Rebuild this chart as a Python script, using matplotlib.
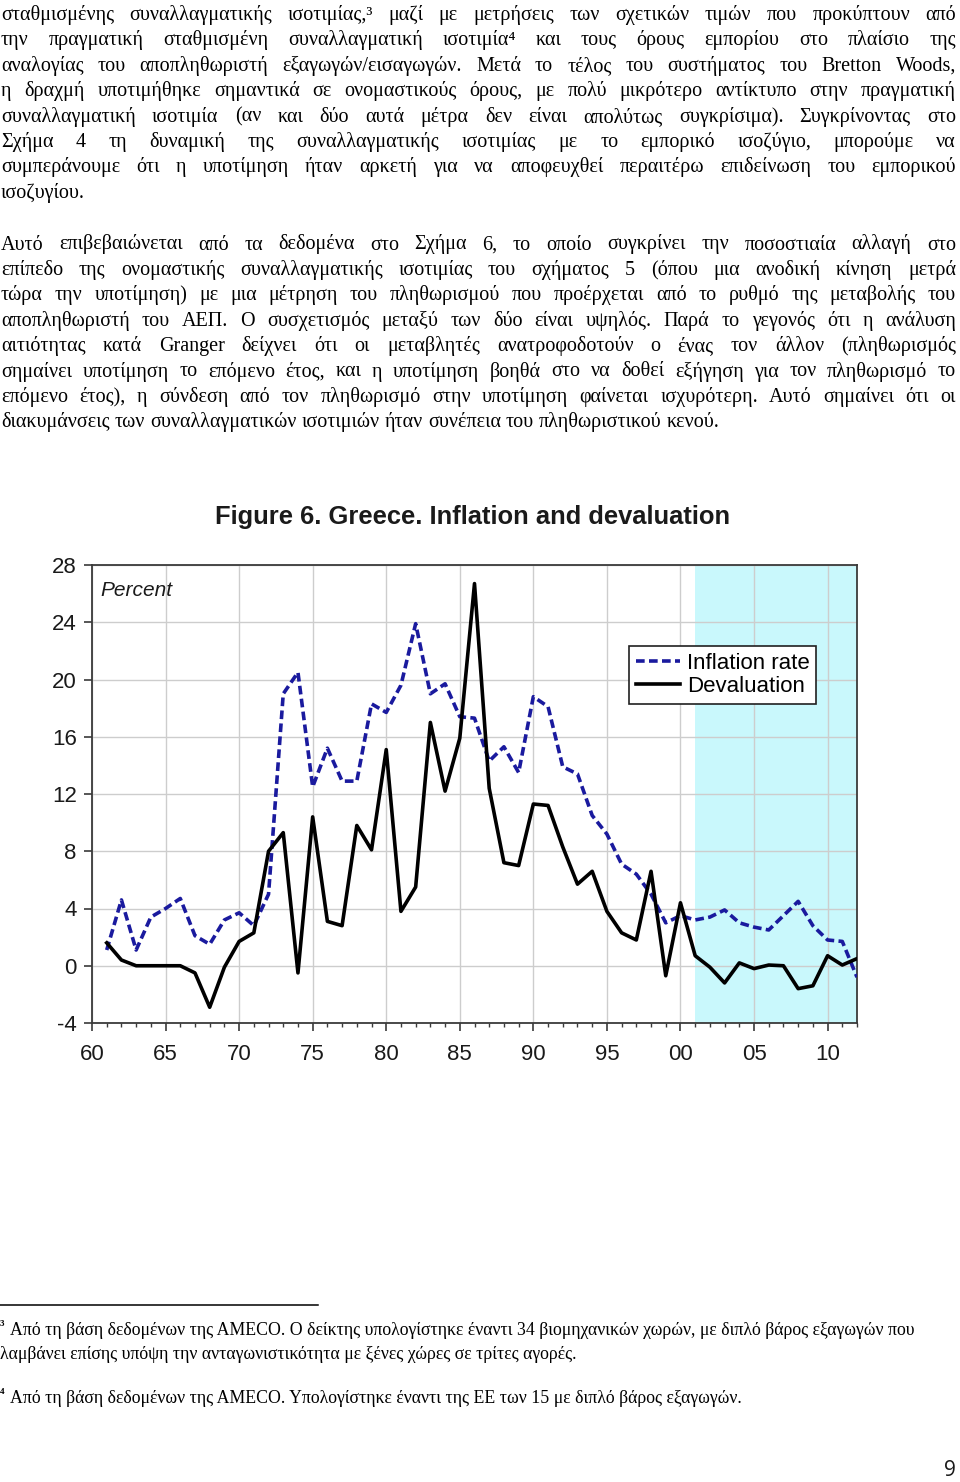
import numpy as np
import matplotlib
matplotlib.use("Agg")
import matplotlib.pyplot as plt
from matplotlib.ticker import MultipleLocator, FixedLocator

# ==========================================
# Data
# ==========================================
years = list(range(1961, 2013))

inflation = [1.1, 4.6, 1.1, 3.4, 4.0, 4.7, 2.1, 1.5, 3.2, 3.7,
             2.8, 5.0, 19.0, 20.5, 12.5, 15.2, 12.9, 12.9, 18.3, 17.7,
             19.6, 23.9, 19.0, 19.7, 17.4, 17.3, 14.3, 15.3, 13.5, 18.8,
             18.1, 13.9, 13.4, 10.5, 9.2, 7.1, 6.4, 5.0, 3.0, 3.5,
             3.2, 3.4, 3.9, 3.0, 2.7, 2.5, 3.5, 4.5, 2.8, 1.8,
             1.7, -0.8]

devaluation = [1.6, 0.4, 0.0, 0.0, 0.0, 0.0, -0.5, -2.9, -0.1, 1.7,
               2.3, 8.0, 9.3, -0.5, 10.4, 3.1, 2.8, 9.8, 8.1, 15.1,
               3.8, 5.5, 17.0, 12.2, 15.9, 26.7, 12.4, 7.2, 7.0, 11.3,
               11.2, 8.3, 5.7, 6.6, 3.8, 2.3, 1.8, 6.6, -0.7, 4.4,
               0.7, -0.1, -1.2, 0.2, -0.2, 0.05, 0.0, -1.6, -1.4, 0.7,
               0.05, 0.5]

x_tick_years = [1960, 1965, 1970, 1975, 1980, 1985, 1990, 1995, 2000, 2005, 2010]
x_tick_labels = ['60', '65', '70', '75', '80', '85', '90', '95', '00', '05', '10']
y_ticks = [-4, 0, 4, 8, 12, 16, 20, 24, 28]
shade_start, shade_end = 2001, 2012

chart_title = 'Figure 6. Greece. Inflation and devaluation'
series_names = ['Inflation rate', 'Devaluation']

para1 = [
    "σταθμισμένης συναλλαγματικής ισοτιμίας,³ μαζί με μετρήσεις των σχετικών τιμών που προκύπτουν από",
    "την πραγματική σταθμισμένη συναλλαγματική ισοτιμία⁴ και τους όρους εμπορίου στο πλαίσιο της",
    "αναλογίας του αποπληθωριστή εξαγωγών/εισαγωγών. Μετά το τέλος του συστήματος του Bretton Woods,",
    "η δραχμή υποτιμήθηκε σημαντικά σε ονομαστικούς όρους, με πολύ μικρότερο αντίκτυπο στην πραγματική",
    "συναλλαγματική ισοτιμία (αν και δύο αυτά μέτρα δεν είναι απολύτως συγκρίσιμα). Συγκρίνοντας στο",
    "Σχήμα 4 τη δυναμική της συναλλαγματικής ισοτιμίας με το εμπορικό ισοζύγιο, μπορούμε να",
    "συμπεράνουμε ότι η υποτίμηση ήταν αρκετή για να αποφευχθεί περαιτέρω επιδείνωση του εμπορικού",
    "ισοζυγίου.",
]
para2 = [
    "Αυτό επιβεβαιώνεται από τα δεδομένα στο Σχήμα 6, το οποίο συγκρίνει την ποσοστιαία αλλαγή στο",
    "επίπεδο της ονομαστικής συναλλαγματικής ισοτιμίας του σχήματος 5 (όπου μια ανοδική κίνηση μετρά",
    "τώρα την υποτίμηση) με μια μέτρηση του πληθωρισμού που προέρχεται από το ρυθμό της μεταβολής του",
    "αποπληθωριστή του ΑΕΠ. Ο συσχετισμός μεταξύ των δύο είναι υψηλός. Παρά το γεγονός ότι η ανάλυση",
    "αιτιότητας κατά Granger δείχνει ότι οι μεταβλητές ανατροφοδοτούν ο ένας τον άλλον (πληθωρισμός",
    "σημαίνει υποτίμηση το επόμενο έτος, και η υποτίμηση βοηθά στο να δοθεί εξήγηση για τον πληθωρισμό το",
    "επόμενο έτος), η σύνδεση από τον πληθωρισμό στην υποτίμηση φαίνεται ισχυρότερη. Αυτό σημαίνει ότι οι",
    "διακυμάνσεις των συναλλαγματικών ισοτιμιών ήταν συνέπεια του πληθωριστικού κενού.",
]
footnotes = [
    ("³", "Από τη βάση δεδομένων της AMECO. Ο δείκτης υπολογίστηκε έναντι 34 βιομηχανικών χωρών, με διπλό βάρος εξαγωγών που"),
    ("", "λαμβάνει επίσης υπόψη την ανταγωνιστικότητα με ξένες χώρες σε τρίτες αγορές."),
    ("⁴", "Από τη βάση δεδομένων της AMECO. Υπολογίστηκε έναντι της ΕΕ των 15 με διπλό βάρος εξαγωγών."),
]
page_number = '9'

# ==========================================
# Page setup
# ==========================================
W, H = 960, 1482
fig = plt.figure(figsize=(W / 100, H / 100), dpi=100)
fig.patch.set_facecolor('white')
renderer = fig.canvas.get_renderer()

SERIF = ['Liberation Serif', 'DejaVu Serif']
SANS = ['Liberation Sans', 'DejaVu Sans']


def fx(x):
    return x / W


def fy(y):
    return 1 - y / H


def measure_words(words, size):
    texts = [fig.text(0, 0, w, fontsize=size, family=SERIF, va='baseline') for w in words]
    widths = [t.get_window_extent(renderer).width for t in texts]
    return texts, widths


def natural_width(line, size):
    words = line.split(' ')
    texts, widths = measure_words(words, size)
    for t in texts:
        t.remove()
    return sum(widths) + (len(words) - 1) * size * 0.25 * 100 / 72


def put_line(line, y_base, x0, x1, size, justify):
    words = line.split(' ')
    texts, widths = measure_words(words, size)
    if justify and len(words) > 1:
        gap = (x1 - x0 - sum(widths)) / (len(words) - 1)
    else:
        gap = size * 0.25 * 100 / 72
    x = x0
    for t, w in zip(texts, widths):
        t.set_position((fx(x), fy(y_base)))
        x += w + gap


# --- body text size: as large as fits the justified lines ---
body_size = 14.5
widest = max(natural_width(l, body_size) for l in para1[:-1] + para2[:-1])
body_size = min(body_size, body_size * 954 / widest)

line_step = 25.4
for i, line in enumerate(para1):
    put_line(line, 20 + i * line_step, 1, 956, body_size, i < len(para1) - 1)
for i, line in enumerate(para2):
    put_line(line, 249.5 + i * line_step, 1, 956, body_size, i < len(para2) - 1)

# ==========================================
# Chart
# ==========================================
ax = fig.add_axes([fx(92), fy(1023), (857 - 92) / W, (1023 - 565) / H])

ax.axvspan(shade_start, shade_end, color='#c9f8fc', lw=0, zorder=0.2)
ax.plot(years, inflation, color='#1a1a9e', lw=2.6, linestyle=(0, (2.4, 1.2)),
        label=series_names[0], zorder=3)
ax.plot(years, devaluation, color='black', lw=2.6, label=series_names[1], zorder=3)

ax.set_xlim(1960, 2012)
ax.set_ylim(-4, 28)
ax.xaxis.set_major_locator(FixedLocator(x_tick_years))
ax.set_xticklabels(x_tick_labels)
ax.xaxis.set_minor_locator(MultipleLocator(1))
ax.set_yticks(y_ticks)
ax.set_yticklabels([str(v) for v in y_ticks])

ax.grid(True, which='major', color='#cdcdcd', lw=1.0, zorder=0.5)
ax.set_axisbelow(True)
for s in ax.spines.values():
    s.set_color('#3a3a3a')
    s.set_linewidth(1.3)

ax.tick_params(axis='both', which='major', direction='out', length=6, width=1.2,
               color='#3a3a3a', labelsize=16, labelcolor='#1a1a1a')
ax.tick_params(axis='x', which='minor', direction='out', length=3, width=1.0, color='#3a3a3a')
ax.tick_params(axis='x', which='major', pad=9)
ax.tick_params(axis='y', which='major', pad=5)
for lab in ax.get_xticklabels() + ax.get_yticklabels():
    lab.set_family(SANS)

ax.text(0.011, 0.965, 'Percent', transform=ax.transAxes, fontsize=15, style='italic',
        family=SANS, color='#1a1a1a', va='top', ha='left')

leg = ax.legend(loc='upper left', bbox_to_anchor=(0.702, 0.823), prop={'family': SANS, 'size': 16},
                handlelength=2.0, handletextpad=0.3, labelspacing=0.1, borderpad=0.3,
                borderaxespad=0, fancybox=False, framealpha=1, edgecolor='#202020')
leg.get_frame().set_linewidth(1.2)

fig.text(fx(473), fy(517), chart_title, fontsize=18.4, fontweight='bold', family=SANS,
         color='#1a1a1a', ha='center', va='center')

# ==========================================
# Footnotes and page number
# ==========================================
fig.add_artist(plt.Line2D([fx(0), fx(318)], [fy(1305), fy(1305)], color='black', lw=1.1))

foot_size = body_size * 0.88
foot_base = [1335, 1359, 1403]
for (mark, txt), yb in zip(footnotes, foot_base):
    if mark:
        fig.text(fx(0), fy(yb - 5), mark, fontsize=foot_size * 0.85, family=SERIF,
                 fontweight='bold', va='baseline')
        fig.text(fx(10), fy(yb), txt, fontsize=foot_size, family=SERIF, va='baseline')
    else:
        fig.text(fx(0), fy(yb), txt, fontsize=foot_size, family=SERIF, va='baseline')

fig.text(fx(956), fy(1476), page_number, fontsize=15, family=['Open Sans', 'DejaVu Sans'],
         ha='right', va='baseline', color='#1a1a1a')

fig.savefig('out.png', dpi=100)
